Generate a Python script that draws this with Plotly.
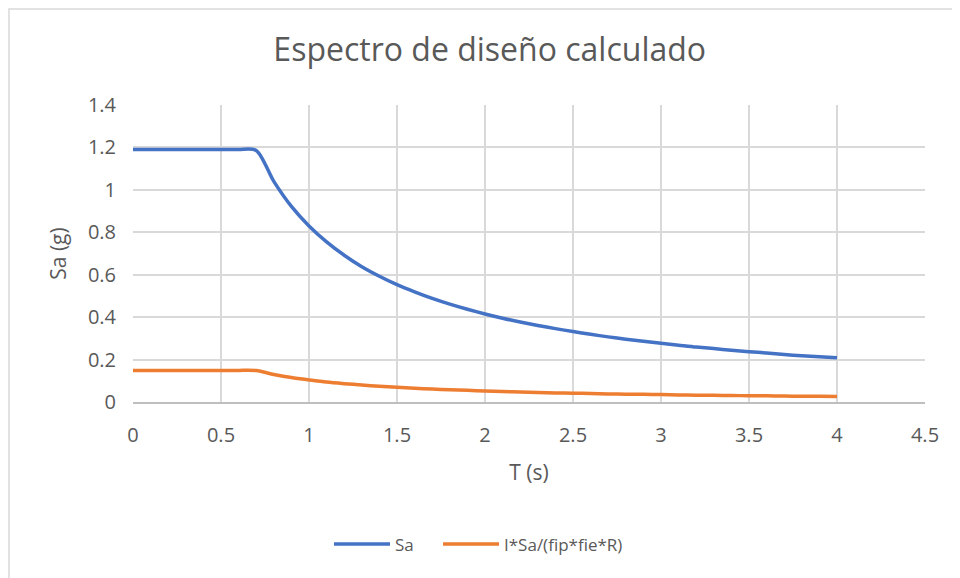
import plotly.graph_objects as go

T = [0.0, 0.1, 0.2, 0.3, 0.4, 0.5, 0.6, 0.7, 0.8, 0.9, 1.0, 1.1, 1.2, 1.3, 1.4, 1.5, 1.6, 1.7, 1.8, 1.9,
     2.0, 2.1, 2.2, 2.3, 2.4, 2.5, 2.6, 2.7, 2.8, 2.9, 3.0, 3.1, 3.2, 3.3, 3.4, 3.5, 3.6, 3.7, 3.8, 3.9, 4.0]
Sa = [1.19, 1.19, 1.19, 1.19, 1.19, 1.19, 1.19, 1.186, 1.04, 0.922, 0.83, 0.755, 0.692, 0.638, 0.593, 0.553,
      0.519, 0.488, 0.461, 0.437, 0.415, 0.395, 0.377, 0.361, 0.346, 0.332, 0.319, 0.307, 0.296, 0.286, 0.277,
      0.268, 0.259, 0.252, 0.244, 0.237, 0.231, 0.224, 0.218, 0.213, 0.208]
SaRed = [0.149, 0.149, 0.149, 0.149, 0.149, 0.149, 0.149, 0.148, 0.13, 0.115, 0.104, 0.094, 0.0865, 0.080,
         0.074, 0.069, 0.065, 0.061, 0.058, 0.055, 0.052, 0.049, 0.047, 0.045, 0.043, 0.0415, 0.040, 0.038,
         0.037, 0.036, 0.035, 0.0335, 0.032, 0.0315, 0.0305, 0.0296, 0.0289, 0.028, 0.0273, 0.0266, 0.026]

x_ticks = [0, 0.5, 1, 1.5, 2, 2.5, 3, 3.5, 4, 4.5]
x_tick_labels = ["0", "0.5", "1", "1.5", "2", "2.5", "3", "3.5", "4", "4.5"]
y_ticks = [0, 0.2, 0.4, 0.6, 0.8, 1.0, 1.2, 1.4]
y_tick_labels = ["0", "0.2", "0.4", "0.6", "0.8", "1", "1.2", "1.4"]

FONT = "Open Sans"
GREY = "#595959"

fig = go.Figure()
fig.add_trace(go.Scatter(x=T, y=Sa, mode="lines", name="Sa", legend="legend",
                         line=dict(color="#4472C4", width=3.5, shape="spline", smoothing=0.8)))
fig.add_trace(go.Scatter(x=T, y=SaRed, mode="lines", name="I*Sa/(fip*fie*R)", legend="legend2",
                         line=dict(color="#ED7D31", width=3.5, shape="spline", smoothing=0.8)))

leg_common = dict(orientation="h", y=-0.48, yanchor="middle", xanchor="left",
                  font=dict(family=FONT, size=17, color=GREY), itemwidth=56,
                  bgcolor="rgba(0,0,0,0)")

fig.update_layout(
    width=952, height=570,
    paper_bgcolor="white", plot_bgcolor="white",
    margin=dict(l=125, r=35, t=97, b=176),
    title=dict(text="Espectro de diseño calculado", x=0.506, xanchor="center", y=0.926, yanchor="middle",
               font=dict(family=FONT, size=32, color=GREY)),
    font=dict(family=FONT, color=GREY, size=20),
    showlegend=True,
    legend=dict(x=(337 - 133 - 8) / 792, **leg_common),
    legend2=dict(x=(446 - 133 - 8) / 792, **leg_common),
    xaxis=dict(range=[0, 4.5], tickvals=x_ticks, ticktext=x_tick_labels, showgrid=True,
               gridcolor="#D9D9D9", gridwidth=1.5, zeroline=False, showline=True, linecolor="#BFBFBF",
               linewidth=1.5, ticks="", ticklabelstandoff=14,
               title=dict(text="T (s)", font=dict(size=21, color=GREY), standoff=19),
               tickfont=dict(size=20, color=GREY)),
    yaxis=dict(range=[0, 1.4], tickvals=y_ticks, ticktext=y_tick_labels, showgrid=True,
               gridcolor="#D9D9D9", gridwidth=1.5, zeroline=False, showline=False,
               ticks="", ticklabelstandoff=16,
               title=dict(text="Sa (g)", font=dict(size=21, color=GREY), standoff=15),
               tickfont=dict(size=20, color=GREY)),
)

fig.add_shape(type="rect", xref="paper", yref="paper", x0=-0.1566, x1=1.3, y0=-0.9, y1=1.323,
              line=dict(color="#D9D9D9", width=1.5), fillcolor="rgba(0,0,0,0)", layer="below")

fig.write_html("out.html")
